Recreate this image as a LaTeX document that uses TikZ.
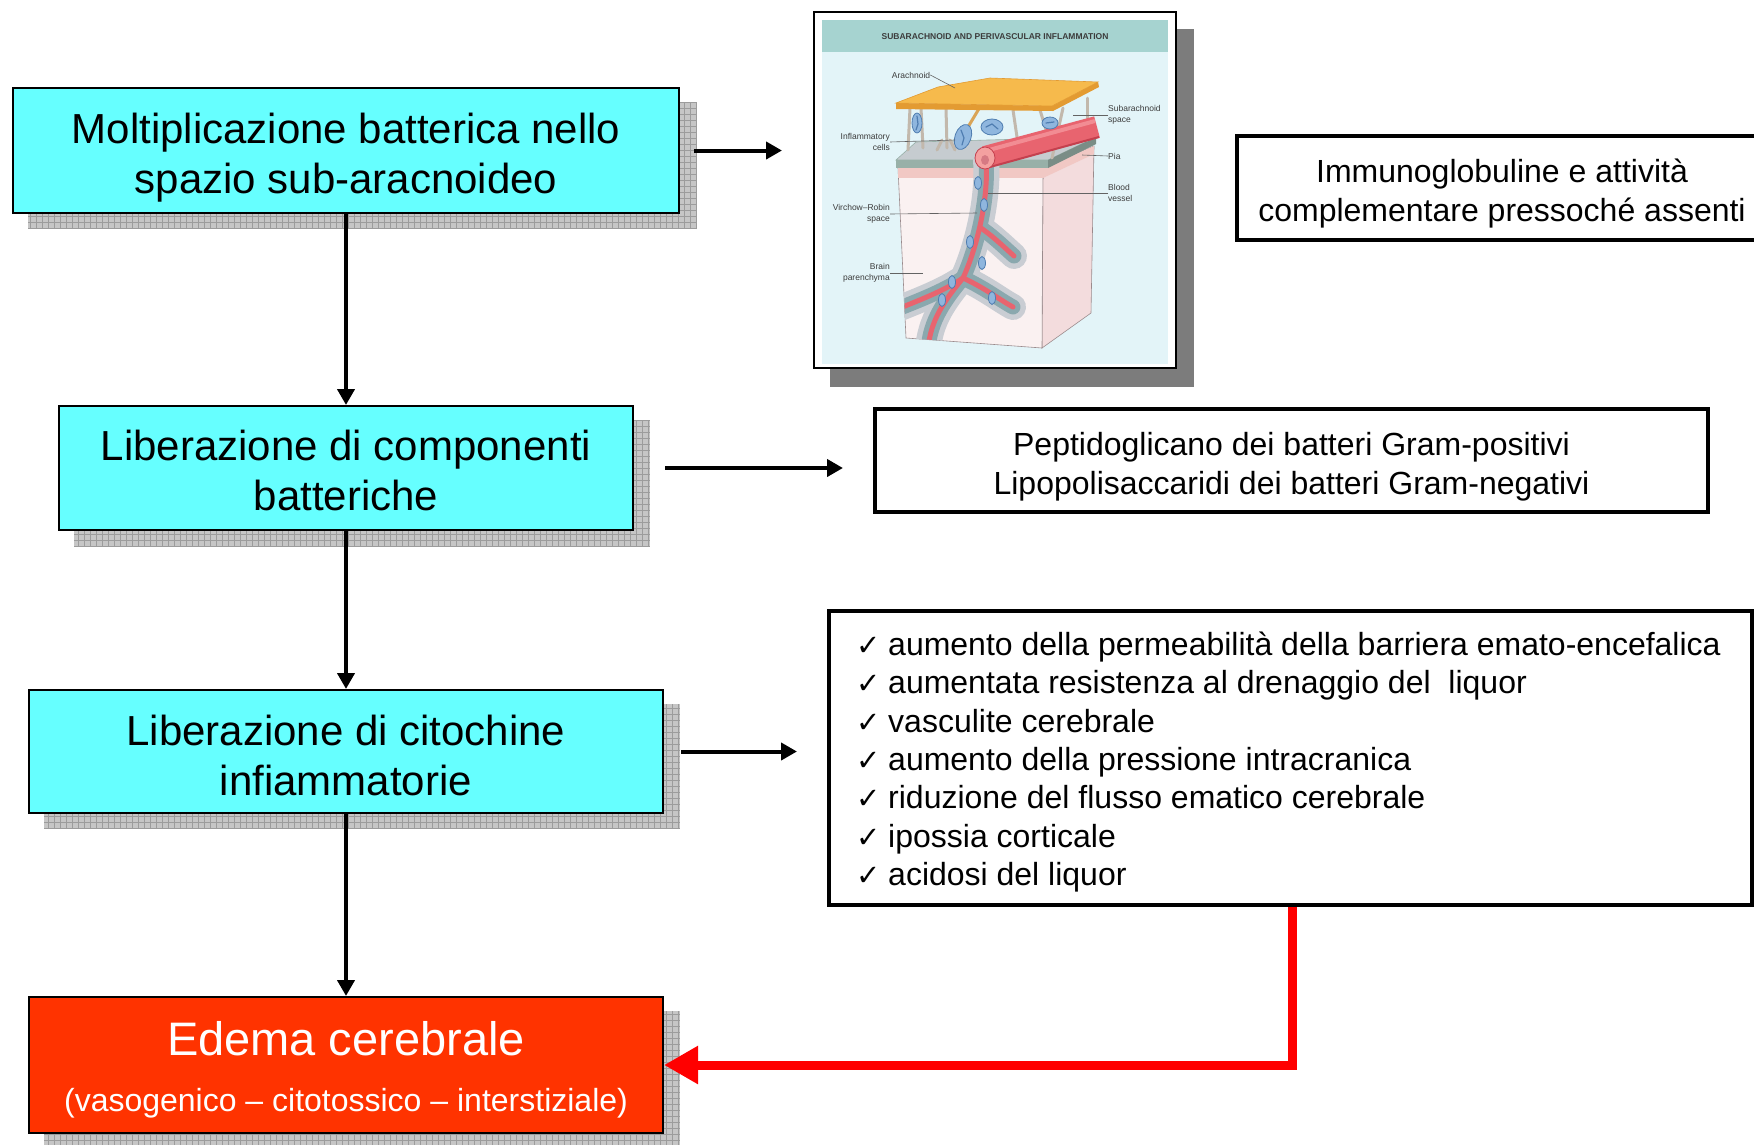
\documentclass[tikz,border=0pt]{standalone}
\usepackage{fontspec}
\setmainfont{Liberation Sans}
\newfontfamily\checkfont{DejaVu Sans}
\usetikzlibrary{arrows.meta,calc,backgrounds}

\definecolor{boxcyan}{HTML}{66FFFF}
\definecolor{boxred}{HTML}{FF3300}
\definecolor{arrowred}{HTML}{FF0000}
\definecolor{shadowgray}{HTML}{C6C6C6}
\definecolor{gridgray}{HTML}{9C9C9C}
\definecolor{imgshadow}{HTML}{7C7C7C}
% illustration palette
\definecolor{illbg}{HTML}{E3F4F8}
\definecolor{illtitle}{HTML}{A6D3D0}
\definecolor{illtext}{HTML}{3C3C3C}
\definecolor{blockfront}{HTML}{FAF1F1}
\definecolor{blockside}{HTML}{F3DCDD}
\definecolor{blockband}{HTML}{F1C8C4}
\definecolor{blockedge}{HTML}{9A8A8C}
\definecolor{piatop}{HTML}{C6CCD0}
\definecolor{piaedge}{HTML}{98B0A8}
\definecolor{sheathlight}{HTML}{C9CDD3}
\definecolor{sheathdark}{HTML}{8AA8AE}
\definecolor{vesselred}{HTML}{E8646F}
\definecolor{vesseldark}{HTML}{C4404E}
\definecolor{vesselhi}{HTML}{F28C93}
\definecolor{vesselcap}{HTML}{F4A0A0}
\definecolor{cellfill}{HTML}{8FB6DE}
\definecolor{celledge}{HTML}{4F7DB0}
\definecolor{slabtop}{HTML}{F6BA4C}
\definecolor{slabedge}{HTML}{E39B32}
\definecolor{trabcolor}{HTML}{C2B8AC}

\newcommand{\tick}{\makebox[32pt][l]{\checkfont\fontsize{29}{29}\selectfont ✓}}

\begin{document}
\begin{tikzpicture}[x=1pt,y=-1pt,
  stagebox/.style={draw=black, line width=2pt, fill=boxcyan, inner sep=0pt, outer sep=1pt},
  stagetext/.style={align=center, inner sep=0pt, font=\fontsize{42}{50}\selectfont},
  notebox/.style={draw=black, line width=4.5pt, fill=white, inner sep=0pt, outer sep=2pt},
  notetext/.style={align=center, inner sep=0pt, font=\fontsize{32}{39}\selectfont},
  flow/.style={line width=4pt, -{Triangle[length=16pt,width=17pt]}},
  redflow/.style={draw=arrowred, line width=9pt, -{Triangle[length=34pt,width=36pt]}},
  lbl/.style={font=\fontsize{8.5}{11}\selectfont, text=illtext, inner sep=0pt},
  leader/.style={draw=illtext!80, line width=0.6pt},
  sheathouter/.style={line width=26pt, draw=sheathlight, line cap=round},
  sheathinner/.style={line width=15pt, draw=sheathdark, line cap=round},
  vessel/.style={line width=5pt, draw=vesselred, line cap=round},
  trab/.style={line width=3pt, draw=trabcolor, line cap=round},
  cell/.style={fill=cellfill, draw=celledge, line width=0.8pt},
  nucleus/.style={draw=celledge, line width=1.2pt, line cap=round}]
\useasboundingbox (0,0) rectangle (1754,1144);
\clip (0,0) rectangle (1754,1144);

% ---------- main chain ----------
\node[stagebox, minimum width=666pt, minimum height=125pt] (mult) at (346,150.5) {};
\node[stagetext] (multtext) at ($(mult.center)+(0,7)$)
  {Moltiplicazione batterica nello\\spazio sub-aracnoideo};
\node[stagebox, minimum width=574pt, minimum height=124pt] (lib) at (346,468) {};
\node[stagetext] (libtext) at ($(lib.center)+(0,2)$)
  {Liberazione di componenti\\batteriche};
\node[stagebox, minimum width=634pt, minimum height=123pt] (cito) at (346,751.5) {};
\node[stagetext] (citotext) at ($(cito.center)+(0,4)$)
  {Liberazione di citochine\\infiammatorie};
\node[stagebox, fill=boxred, minimum width=634pt, minimum height=136pt] (edema) at (346,1065) {};
\node[font=\fontsize{47}{47}\selectfont, text=white, inner sep=0pt] (edematitle)
  at ($(edema.center)+(0,-26)$) {Edema cerebrale};
\node[font=\fontsize{32}{32}\selectfont, text=white, inner sep=0pt] (edemasub)
  at ($(edema.center)+(0,38)$) {(vasogenico – citotossico – interstiziale)};

% ---------- side notes ----------
\node[draw=black, line width=2pt, fill=white, inner sep=0pt, minimum width=362pt,
  minimum height=356pt] (img) at (995,190) {};
\node[notebox, minimum width=533pt, minimum height=104pt] (imm) at (1503.5,188) {};
\node[notetext] (immtext) at (1502,194)
  {Immunoglobuline e attività\\complementare pressoché assenti};
\node[notebox, minimum width=833pt, minimum height=103pt] (pep) at (1291.5,460.5) {};
\node[notetext] (peptext) at ($(pep.center)+(0,6)$)
  {Peptidoglicano dei batteri Gram-positivi\\Lipopolisaccaridi dei batteri Gram-negativi};
\node[notebox, minimum width=923pt, minimum height=294pt] (list) at (1290.5,758) {};
\node[anchor=west, align=left, inner sep=0pt, font=\fontsize{32}{38.4}\selectfont] (listtext) at (856,762)
  {\tick aumento della permeabilità della barriera emato-encefalica\\
   \tick aumentata resistenza al drenaggio del~ liquor\\
   \tick vasculite cerebrale\\
   \tick aumento della pressione intracranica\\
   \tick riduzione del flusso ematico cerebrale\\
   \tick ipossia corticale\\
   \tick acidosi del liquor};

% ---------- shadows ----------
\begin{scope}[on background layer]
  \foreach \bx in {mult,lib,cito,edema} {
    \fill[shadowgray] ($(\bx.north west)+(16,15)$) rectangle ($(\bx.south east)+(16,15)$);
    \draw[gridgray, line width=0.7pt, step=6pt] ($(\bx.north west)+(16,15)$) grid ($(\bx.south east)+(16,15)$);
  }
  \fill[imgshadow] ($(img.north west)+(17,18)$) rectangle ($(img.south east)+(17,18)$);
\end{scope}

% ---------- connectors ----------
\draw[flow] (mult) -- (lib);
\draw[flow] (lib) -- (cito);
\draw[flow] (cito) -- (edema);
\draw[flow, shorten <=14pt, shorten >=31pt] (mult.east) -- (mult.east -| img.west);
\draw[flow, shorten <=31pt, shorten >=30pt] (lib.east) -- (lib.east -| pep.west);
\draw[flow, shorten <=17pt, shorten >=30pt] (cito.east) -- (cito.east -| list.west);
\coordinate (bend) at (1292,1065);
\draw[redflow] (list.south -| bend) -- (bend) -- (edema.east);

% ---------- illustration: subarachnoid and perivascular inflammation ----------
\fill[illbg] (822,20) rectangle (1168,364);
\fill[illtitle] (822,20) rectangle (1168,52);
\node[font=\bfseries\fontsize{8.5}{10}\selectfont, text=illtext] (illtitle) at (995,37)
  {SUBARACHNOID AND PERIVASCULAR INFLAMMATION};

% brain block
\filldraw[fill=blockside, draw=blockedge, line width=0.6pt]
  (1043,168) -- (1094,146) -- (1091,313) -- (1042,348) -- cycle;
\filldraw[fill=blockfront, draw=blockedge, line width=0.6pt]
  (898,168) -- (1043,168) -- (1042,348) -- (906,338) -- cycle;
\fill[blockband] (898,168) -- (1043,168) -- (1043,178) -- (898,178) -- cycle;
\fill[blockband] (1043,168) -- (1094,146) -- (1094,154) -- (1043,178) -- cycle;

% pia with subarachnoid floor
\filldraw[fill=piatop, draw=piaedge, line width=0.6pt]
  (896,160) -- (916,142) -- (1096,137) -- (1048,160) -- cycle;
\fill[piaedge] (896,160) -- (1048,160) -- (1048,168) -- (896,168) -- cycle;
\fill[piaedge!80!black] (1048,160) -- (1096,137) -- (1096,144) -- (1048,168) -- cycle;

% perivascular (Virchow-Robin) space and penetrating vessel
\begin{scope}
  \clip (898,150) -- (1043,150) -- (1042,348) -- (906,338) -- cycle;
  \foreach \sty in {sheathouter,sheathinner,vessel} {
    \draw[\sty] (986,160) .. controls (989,200) and (976,250) .. (963,278)
                .. controls (945,290) and (925,298) .. (900,308);
    \draw[\sty] (963,278) .. controls (945,300) and (930,320) .. (928,350);
    \draw[\sty] (963,278) .. controls (985,288) and (1000,300) .. (1013,307);
    \draw[\sty] (981,228) .. controls (995,238) and (1005,248) .. (1014,256);
  }
  \foreach \p/\a in {978/183, 984/205, 970/242, 982/263, 952/282, 942/300, 992/298} {
    \filldraw[cell] (\p,\a) ellipse [x radius=3.5pt, y radius=6.5pt];
  }
\end{scope}

% trabeculae between arachnoid and pia
\draw[trab] (910,108) -- (908,150);
\draw[trab] (921,108) -- (923,148);
\draw[trab] (946,108) -- (947,148);
\draw[trab] (942,140) -- (937,150);
\draw[trab] (950,140) -- (955,150);
\draw[trab, draw=slabedge!70!trabcolor] (980,107) -- (968,127);
\draw[trab] (1013,110) -- (1017,137);
\draw[trab] (1040,110) -- (1047,133);
\draw[trab] (1063,108) -- (1052,158);
\draw[trab] (1087,98) -- (1087,140);

% subarachnoid blood vessel
\draw[line width=22pt, vesselred] (985,157) -- (1097,127);
\draw[line width=4pt, vesselhi] (989,150) -- (1095,121);
\draw[line width=2pt, vesseldark] (990,167) -- (1099,137);
\filldraw[fill=vesselcap, draw=vesseldark, line width=0.8pt] (985,158) ellipse [x radius=10pt, y radius=11pt];
\fill[vesseldark!70] (985,160) ellipse [x radius=4pt, y radius=5pt];

% inflammatory cells
\filldraw[cell] (917,123) ellipse [x radius=5pt, y radius=10pt];
\draw[nucleus] (917,116) -- (918,124) -- (916,130);
\filldraw[cell, rotate around={-20:(963,137)}] (963,137) ellipse [x radius=8pt, y radius=13pt];
\draw[nucleus] (961,130) -- (964,138) -- (962,145);
\filldraw[cell] (992,127) ellipse [x radius=11pt, y radius=8pt];
\draw[nucleus] (986,127) -- (992,124) -- (998,129);
\filldraw[cell] (1050,123) ellipse [x radius=8pt, y radius=6pt];
\draw[nucleus] (1046,123) -- (1054,122);

% arachnoid
\fill[slabedge] (896,103) -- (1052,106) -- (1098,82) -- (1099,87) -- (1053,111) -- (896,109) -- cycle;
\filldraw[fill=slabtop, draw=slabedge, line width=0.6pt]
  (896,103) -- (938,87) -- (990,78) -- (1098,82) -- (1052,106) -- cycle;

% labels
\node[lbl] (lblarach) at (911,75) {Arachnoid};
\draw[leader] (lblarach.east) -- (955,88);
\node[lbl, anchor=west, align=left] (lblsub) at (1108,115) {Subarachnoid\\space};
\draw[leader] (lblsub.west) -- (1073,115);
\node[lbl, anchor=east, align=right] (lblinfl) at (890,142) {Inflammatory\\cells};
\draw[leader] (lblinfl.east) -- (955,140);
\node[lbl, anchor=west] (lblpia) at (1108,156) {Pia};
\draw[leader] (lblpia.west) -- (1082,155);
\node[lbl, anchor=west, align=left] (lblblood) at (1108,193) {Blood\\vessel};
\draw[leader] (lblblood.west) -- (988,193);
\node[lbl, anchor=east, align=right] (lblvr) at (890,214) {Virchow–Robin\\space};
\draw[leader] (lblvr.east) -- (977,213);
\node[lbl, anchor=east, align=right] (lblbrain) at (890,273) {Brain\\parenchyma};
\draw[leader] (lblbrain.east) -- (923,273);
\end{tikzpicture}
\end{document}
